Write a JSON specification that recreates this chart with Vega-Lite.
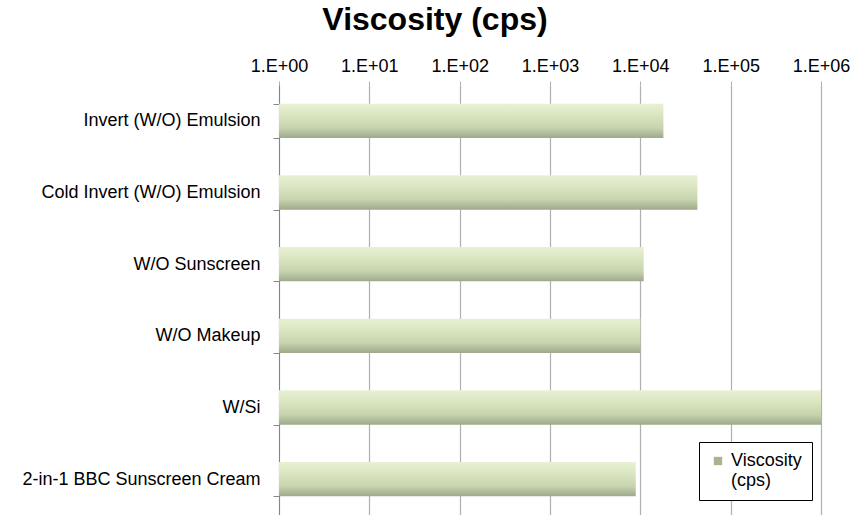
{
  "$schema": "https://vega.github.io/schema/vega-lite/v6.json",
  "autosize": "none",
  "width": 542,
  "height": 430,
  "padding": {"left": 279, "top": 85, "right": 41, "bottom": 0},
  "background": "white",
  "config": {
    "font": "Liberation Sans",
    "view": {"stroke": null}
  },
  "title": {
    "text": "Viscosity (cps)",
    "fontSize": 32,
    "fontWeight": "bold",
    "color": "black",
    "anchor": "middle",
    "frame": "group",
    "dx": -115,
    "offset": 20
  },
  "data": {
    "values": [
      {"sample": "Invert (W/O) Emulsion", "viscosity": 18000, "series": "Viscosity (cps)"},
      {"sample": "Cold Invert (W/O) Emulsion", "viscosity": 42800, "series": "Viscosity (cps)"},
      {"sample": "W/O Sunscreen", "viscosity": 10900, "series": "Viscosity (cps)"},
      {"sample": "W/O Makeup", "viscosity": 10000, "series": "Viscosity (cps)"},
      {"sample": "W/Si", "viscosity": 1000000, "series": "Viscosity (cps)"},
      {"sample": "2-in-1 BBC Sunscreen Cream", "viscosity": 8900, "series": "Viscosity (cps)"}
    ]
  },
  "encoding": {
    "y": {
      "field": "sample",
      "type": "nominal",
      "sort": null,
      "title": null,
      "scale": {"paddingInner": 0.52, "paddingOuter": 0.26},
      "axis": {
        "labelFontSize": 18,
        "labelColor": "black",
        "labelPadding": 13,
        "domainColor": "#868686",
        "tickColor": "#868686",
        "tickSize": 6,
        "tickBand": "extent",
        "labelLimit": 300
      }
    },
    "x": {
      "field": "viscosity",
      "type": "quantitative",
      "title": null,
      "scale": {"type": "log", "domain": [1, 1000000], "nice": false},
      "axis": {
        "orient": "top",
        "values": [1, 10, 100, 1000, 10000, 100000, 1000000],
        "labelExpr": "'1.E+0' + round(log(datum.value)/LN10)",
        "labelFontSize": 18,
        "labelColor": "black",
        "labelPadding": 6,
        "domain": false,
        "tickSize": 4,
        "tickColor": "#b0b0b0",
        "gridColor": "#b0b0b0",
        "gridWidth": 1.2,
        "labelFlush": false
      }
    },
    "x2": {"datum": 1}
  },
  "layer": [
    {
      "mark": {
        "type": "bar",
        "fill": {
          "gradient": "linear",
          "x1": 0, "y1": 0, "x2": 0, "y2": 1,
          "stops": [
            {"offset": 0, "color": "#e8f1d4"},
            {"offset": 0.35, "color": "#d9e5c0"},
            {"offset": 0.7, "color": "#c8d4ae"},
            {"offset": 1, "color": "#9ea88c"}
          ]
        }
      }
    },
    {
      "mark": {"type": "bar", "opacity": 0},
      "encoding": {
        "color": {
          "field": "series",
          "type": "nominal",
          "scale": {"range": ["#a9b592"]},
          "legend": {
            "title": null,
            "orient": "none",
            "legendX": 420,
            "legendY": 357,
            "symbolType": "square",
            "symbolSize": 70,
            "symbolOpacity": 1,
            "symbolStrokeWidth": 0,
            "labelFontSize": 18,
            "labelColor": "black",
            "labelOffset": 4,
            "labelExpr": "['Viscosity', '(cps)']",
            "strokeColor": "black",
            "padding": 10,
            "fillColor": "white"
          }
        }
      }
    }
  ]
}
